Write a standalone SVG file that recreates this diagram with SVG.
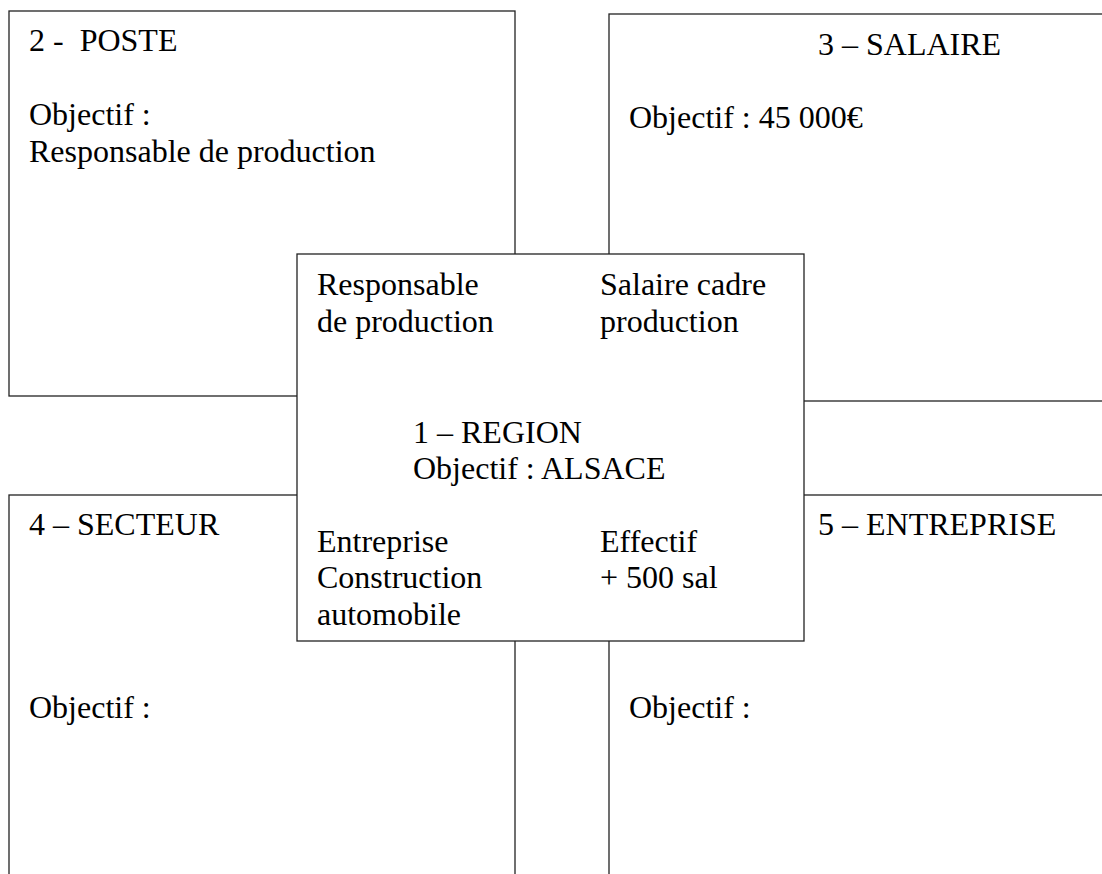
<svg xmlns="http://www.w3.org/2000/svg" width="1102" height="874" viewBox="0 0 1102 874">
<style>
.box{fill:#fff;stroke:#222;stroke-width:1.3}
text{font-family:"Liberation Serif","Times New Roman",serif;font-size:32px;fill:#000}
</style>
<rect x="0" y="0" width="1102" height="874" fill="#fff"/>
<g id="node-poste">
<rect class="box" x="9" y="11" width="506" height="385"/>
<text x="29" y="51" xml:space="preserve">2 -  POSTE</text>
<text x="29" y="125">Objectif :</text>
<text x="29" y="162">Responsable de production</text>
</g>
<g id="node-salaire">
<rect class="box" x="609" y="14" width="520" height="387"/>
<text x="818" y="55">3 – SALAIRE</text>
<text x="629" y="128">Objectif : 45 000€</text>
</g>
<g id="node-secteur">
<rect class="box" x="9" y="495" width="506" height="420"/>
<text x="29" y="535">4 – SECTEUR</text>
<text x="29" y="718">Objectif :</text>
</g>
<g id="node-entreprise">
<rect class="box" x="609" y="495" width="520" height="420"/>
<text x="818" y="535">5 – ENTREPRISE</text>
<text x="629" y="718">Objectif :</text>
</g>
<g id="node-region">
<rect class="box" x="297" y="254" width="507" height="387"/>
<text x="317" y="295">Responsable</text>
<text x="317" y="332">de production</text>
<text x="600" y="295">Salaire cadre</text>
<text x="600" y="332">production</text>
<text x="413" y="443">1 – REGION</text>
<text x="413" y="479">Objectif : ALSACE</text>
<text x="317" y="552">Entreprise</text>
<text x="317" y="588">Construction</text>
<text x="317" y="625">automobile</text>
<text x="600" y="552">Effectif</text>
<text x="600" y="588">+ 500 sal</text>
</g>
<g id="connectors"></g>
</svg>
